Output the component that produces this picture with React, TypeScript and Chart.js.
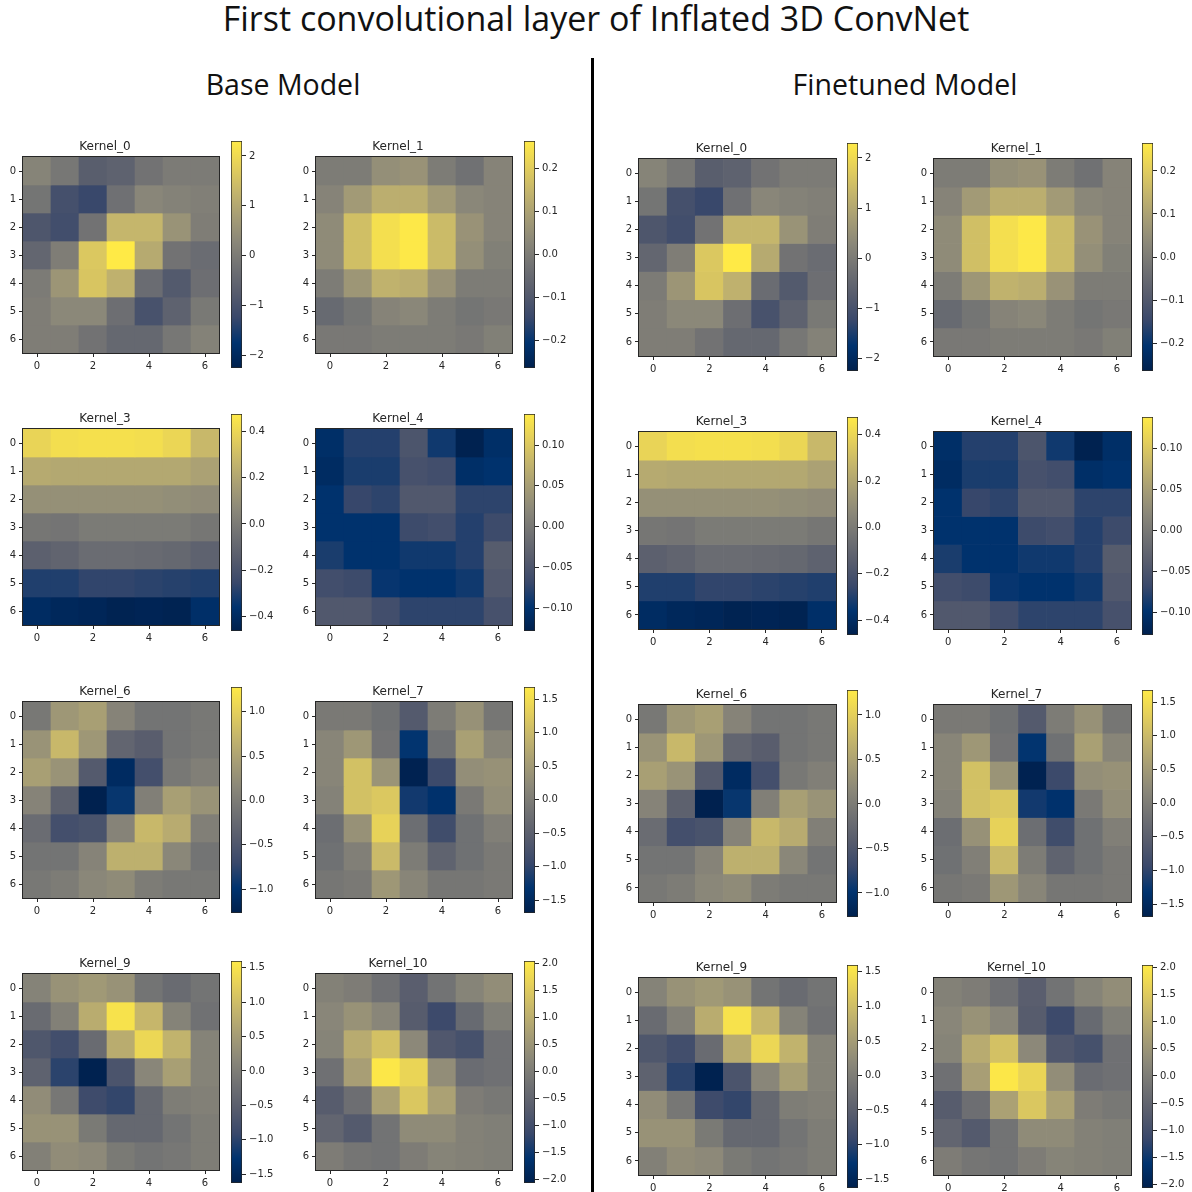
import React, { useEffect, useRef } from 'react';
import { Chart, registerables } from 'chart.js';
Chart.register(...registerables);

// ---------- data ----------
const CELL_INDEX = [0, 1, 2, 3, 4, 5, 6];
const X_TICKS = [0, 2, 4, 6];
const Y_TICKS = [0, 1, 2, 3, 4, 5, 6];

const KERNEL_NAMES = ['Kernel_0', 'Kernel_1', 'Kernel_3', 'Kernel_4', 'Kernel_6', 'Kernel_7', 'Kernel_9', 'Kernel_10'];

const KERNEL_0 = [
  [0.2, -0.1, -0.7, -0.6, -0.2, 0.0, 0.0],
  [-0.15, -1.05, -1.25, -0.25, 0.25, 0.15, 0.1],
  [-0.9, -1.1, -0.2, 1.3, 1.3, 0.55, 0.05],
  [-0.5, 0.05, 1.65, 2.3, 1.05, -0.2, -0.35],
  [0.0, 0.6, 1.6, 1.2, -0.35, -0.8, -0.3],
  [0.05, 0.3, 0.3, -0.3, -1.0, -0.6, -0.05],
  [0.05, 0.05, -0.2, -0.45, -0.45, -0.1, 0.15],
];
const KERNEL_1 = [
  [0.0, 0.0, 0.05, 0.06, 0.0, -0.03, 0.02],
  [0.02, 0.08, 0.13, 0.13, 0.08, 0.03, 0.02],
  [0.04, 0.17, 0.24, 0.26, 0.16, 0.06, 0.02],
  [0.04, 0.17, 0.24, 0.26, 0.16, 0.05, 0.01],
  [0.0, 0.07, 0.14, 0.13, 0.06, 0.0, 0.0],
  [-0.05, -0.02, 0.02, 0.03, 0.0, -0.02, -0.01],
  [-0.01, -0.01, 0.0, 0.0, 0.0, -0.01, 0.01],
];
const KERNEL_3 = [
  [0.39, 0.43, 0.44, 0.44, 0.43, 0.40, 0.28],
  [0.22, 0.21, 0.21, 0.21, 0.21, 0.21, 0.18],
  [0.10, 0.10, 0.10, 0.10, 0.10, 0.09, 0.08],
  [-0.02, -0.03, 0.0, 0.0, 0.0, 0.0, -0.02],
  [-0.13, -0.11, -0.07, -0.07, -0.08, -0.09, -0.12],
  [-0.30, -0.30, -0.27, -0.27, -0.28, -0.29, -0.30],
  [-0.40, -0.42, -0.43, -0.45, -0.44, -0.45, -0.38],
];
const KERNEL_4 = [
  [-0.105, -0.08, -0.08, -0.05, -0.09, -0.125, -0.105],
  [-0.11, -0.085, -0.085, -0.055, -0.06, -0.105, -0.10],
  [-0.10, -0.07, -0.075, -0.045, -0.045, -0.075, -0.075],
  [-0.10, -0.10, -0.10, -0.065, -0.06, -0.08, -0.065],
  [-0.085, -0.10, -0.10, -0.09, -0.09, -0.08, -0.04],
  [-0.06, -0.065, -0.095, -0.10, -0.10, -0.09, -0.045],
  [-0.045, -0.045, -0.06, -0.075, -0.075, -0.075, -0.055],
];
const KERNEL_6 = [
  [-0.05, 0.35, 0.45, 0.1, -0.1, -0.1, -0.05],
  [0.3, 0.75, 0.35, -0.3, -0.4, -0.1, -0.05],
  [0.45, 0.3, -0.45, -1.1, -0.6, -0.05, 0.05],
  [0.1, -0.35, -1.25, -0.95, 0.05, 0.45, 0.3],
  [-0.2, -0.6, -0.55, 0.1, 0.75, 0.6, 0.05],
  [-0.1, -0.1, 0.1, 0.65, 0.65, 0.15, -0.1],
  [-0.05, 0.0, 0.15, 0.2, 0.0, -0.05, -0.05],
];
const KERNEL_7 = [
  [-0.05, -0.05, -0.2, -0.6, 0.0, 0.35, -0.1],
  [0.15, 0.45, -0.15, -1.3, -0.2, 0.6, 0.15],
  [0.15, 1.1, 0.4, -1.65, -0.9, 0.3, 0.35],
  [0.1, 1.1, 1.2, -1.2, -1.35, -0.05, 0.3],
  [-0.25, 0.35, 1.35, -0.25, -0.85, -0.2, 0.05],
  [-0.2, 0.05, 1.0, 0.0, -0.45, -0.2, -0.05],
  [-0.1, -0.05, 0.45, 0.15, -0.1, -0.1, -0.05],
];
const KERNEL_9 = [
  [0.1, 0.35, 0.45, 0.35, -0.15, -0.3, -0.15],
  [-0.3, 0.05, 0.75, 1.5, 0.9, 0.1, -0.2],
  [-0.65, -0.8, -0.3, 0.75, 1.35, 0.85, 0.1],
  [-0.45, -1.0, -1.6, -0.7, 0.15, 0.55, 0.1],
  [0.25, -0.1, -0.85, -0.95, -0.35, 0.0, 0.05],
  [0.35, 0.35, -0.05, -0.35, -0.35, -0.15, 0.0],
  [0.05, 0.25, 0.2, -0.05, -0.15, -0.1, 0.0],
];
const KERNEL_10 = [
  [0.1, 0.0, -0.25, -0.65, -0.2, 0.15, 0.35],
  [0.2, 0.45, 0.2, -0.7, -1.1, -0.4, 0.05],
  [0.15, 0.95, 1.35, 0.25, -0.8, -0.95, -0.25],
  [-0.25, 0.7, 2.0, 1.7, 0.35, -0.35, -0.25],
  [-0.7, -0.3, 0.75, 1.45, 0.75, 0.0, -0.1],
  [-0.5, -0.75, -0.2, 0.3, 0.3, 0.1, 0.05],
  [0.0, -0.15, -0.2, 0.0, 0.15, 0.1, 0.05],
];

// Base and finetuned kernels are visually identical in the reference.
const BASE_KERNELS = [KERNEL_0, KERNEL_1, KERNEL_3, KERNEL_4, KERNEL_6, KERNEL_7, KERNEL_9, KERNEL_10];
const FINETUNED_KERNELS = [KERNEL_0, KERNEL_1, KERNEL_3, KERNEL_4, KERNEL_6, KERNEL_7, KERNEL_9, KERNEL_10];

const CBAR_MIN = [-2.26, -0.265, -0.464, -0.128, -1.27, -1.69, -1.63, -2.07];
const CBAR_MAX = [2.30, 0.265, 0.477, 0.138, 1.28, 1.68, 1.60, 2.05];
const CBAR_TICKS = [
  [-2, -1, 0, 1, 2],
  [-0.2, -0.1, 0, 0.1, 0.2],
  [-0.4, -0.2, 0, 0.2, 0.4],
  [-0.1, -0.05, 0, 0.05, 0.1],
  [-1, -0.5, 0, 0.5, 1],
  [-1.5, -1, -0.5, 0, 0.5, 1, 1.5],
  [-1.5, -1, -0.5, 0, 0.5, 1, 1.5],
  [-2, -1.5, -1, -0.5, 0, 0.5, 1, 1.5, 2],
];
const CBAR_DECIMALS = [0, 1, 1, 2, 1, 1, 1, 1];

// ---------- style ----------
const CIVIDIS = ['#00204D', '#00336F', '#39486B', '#575C6D', '#707173', '#8A8779', '#A69D75', '#C4B56C', '#E4CF5B', '#FFEA46'];
const INK = '#262626';
const TICK_FONT = { family: 'DejaVu Sans', size: 10 };

function hexToRgb(h: string) {
  return [parseInt(h.slice(1, 3), 16), parseInt(h.slice(3, 5), 16), parseInt(h.slice(5, 7), 16)];
}
const CIV_RGB = CIVIDIS.map(hexToRgb);
function cividis(t: number) {
  const u = Math.max(0, Math.min(1, t)) * (CIV_RGB.length - 1);
  const i = Math.min(CIV_RGB.length - 2, Math.floor(u));
  const f = u - i;
  const a = CIV_RGB[i], b = CIV_RGB[i + 1];
  const c = [0, 1, 2].map(k => Math.round(a[k] + (b[k] - a[k]) * f));
  return `rgb(${c[0]},${c[1]},${c[2]})`;
}

const framePlugin = {
  id: 'frame',
  afterDatasetsDraw(chart: any) {
    const { ctx, chartArea: a } = chart;
    ctx.save();
    ctx.strokeStyle = INK;
    ctx.lineWidth = 1;
    ctx.strokeRect(Math.round(a.left) - 0.5, Math.round(a.top) - 0.5, Math.round(a.right - a.left) + 1, Math.round(a.bottom - a.top) + 1);
    ctx.restore();
  },
};

// layout
const AXIS_W = 32;
const AXIS_H = 24;
const TITLE_H = 22;
const BASE_COL_LEFT = [23, 316];
const FT_COL_LEFT = [639, 934];
const BASE_ROW_TOP = [157, 429, 702, 974];
const FT_ROW_TOP = [159, 432, 705, 978];
const BASE_SIZE = 196;
const FT_SIZE = 197;
const CB_GAP = 208;
const CB_W = 11;
const CB_TOP_OFF = [17, 16, 16, 14];
const CB_BOT_OFF = [16, 7, 16, 14];

function Heatmap({ values, idx, left, top, size }: any) {
  const ref = useRef<HTMLCanvasElement>(null);
  const W = AXIS_W * 2 + size;
  const H = TITLE_H + size + AXIS_H;
  useEffect(() => {
    const lo = CBAR_MIN[idx], hi = CBAR_MAX[idx];
    const datasets = CELL_INDEX.map(r => ({
      label: 'row ' + r,
      data: CELL_INDEX.map(c => ({ x: c, y: [r - 0.5, r + 0.5] })),
      backgroundColor: CELL_INDEX.map(c => cividis((values[r][c] - lo) / (hi - lo))),
      borderWidth: 0,
      grouped: false,
      barPercentage: 1,
      categoryPercentage: 1,
    }));
    const chart = new Chart(ref.current as HTMLCanvasElement, {
      type: 'bar',
      data: { datasets } as any,
      options: {
        animation: false,
        responsive: false,
        maintainAspectRatio: false,
        layout: { padding: { left: 0, right: AXIS_W, top: 0, bottom: 0 } },
        plugins: {
          legend: { display: false },
          tooltip: { enabled: false },
          title: {
            display: true,
            text: KERNEL_NAMES[idx],
            color: INK,
            font: { family: 'DejaVu Sans', size: 12, weight: 'normal', lineHeight: 1 },
            padding: { top: 6, bottom: 4 },
          },
        },
        scales: {
          x: {
            type: 'linear', min: -0.5, max: 6.5, offset: false,
            afterBuildTicks: (s: any) => { s.ticks = X_TICKS.map(v => ({ value: v })); },
            afterFit: (s: any) => { s.height = AXIS_H; },
            grid: { display: true, offset: false, drawOnChartArea: false, drawTicks: true, tickLength: 4, color: INK },
            border: { display: false },
            ticks: { font: TICK_FONT, color: INK, padding: 3, maxRotation: 0, autoSkip: false },
          },
          y: {
            type: 'linear', reverse: true, min: -0.5, max: 6.5, beginAtZero: false,
            afterBuildTicks: (s: any) => { s.ticks = Y_TICKS.map(v => ({ value: v })); },
            afterFit: (s: any) => { s.width = AXIS_W; },
            grid: { display: true, drawOnChartArea: false, drawTicks: true, tickLength: 4, color: INK },
            border: { display: false },
            ticks: { font: TICK_FONT, color: INK, padding: 3, autoSkip: false },
          },
        },
      } as any,
      plugins: [framePlugin],
    });
    return () => chart.destroy();
  }, [values, idx, size]);
  return (
    <canvas
      ref={ref}
      width={W}
      height={H}
      style={{ position: 'absolute', left: left - AXIS_W, top: top - TITLE_H, width: W, height: H }}
    />
  );
}

function fmtTick(v: number, dec: number) {
  const s = Math.abs(v).toFixed(dec);
  return (v < 0 ? '\u2212' : '') + s;
}

function Colorbar({ idx, left, top, height }: any) {
  const ref = useRef<HTMLCanvasElement>(null);
  const YW = 46;
  const PAD = 8;
  const W = CB_W + YW;
  const H = height + PAD * 2;
  useEffect(() => {
    const lo = CBAR_MIN[idx], hi = CBAR_MAX[idx];
    const chart = new Chart(ref.current as HTMLCanvasElement, {
      type: 'bar',
      data: {
        labels: [''],
        datasets: [{
          data: [[lo, hi]],
          backgroundColor: (c: any) => {
            const ch = c.chart;
            if (!ch.chartArea) return '#888';
            const y0 = ch.scales.y.getPixelForValue(lo);
            const y1 = ch.scales.y.getPixelForValue(hi);
            const g = ch.ctx.createLinearGradient(0, y0, 0, y1);
            CIVIDIS.forEach((col, i) => g.addColorStop(i / (CIVIDIS.length - 1), col));
            return g;
          },
          borderColor: INK,
          borderWidth: 1,
          borderSkipped: false,
          barPercentage: 1,
          categoryPercentage: 1,
        }],
      } as any,
      options: {
        animation: false,
        responsive: false,
        maintainAspectRatio: false,
        layout: { padding: { left: 0, right: 0, top: PAD, bottom: PAD } },
        plugins: { legend: { display: false }, tooltip: { enabled: false }, title: { display: false } },
        scales: {
          x: { display: false },
          y: {
            position: 'right', min: lo, max: hi, beginAtZero: false,
            afterBuildTicks: (s: any) => { s.ticks = CBAR_TICKS[idx].map(v => ({ value: v })); },
            afterFit: (s: any) => { s.width = YW; },
            grid: { display: true, drawOnChartArea: false, drawTicks: true, tickLength: 4, color: INK },
            border: { display: false },
            ticks: {
              font: TICK_FONT, color: INK, padding: 3, autoSkip: false,
              callback: (v: any) => fmtTick(Number(v), CBAR_DECIMALS[idx]),
            },
          },
        },
      } as any,
    });
    return () => chart.destroy();
  }, [idx]);
  return (
    <canvas
      ref={ref}
      width={W}
      height={H}
      style={{ position: 'absolute', left, top: top - PAD, width: W, height: H }}
    />
  );
}

function Side({ kernels, colLeft, rowTop, size }: any) {
  const items: any[] = [];
  for (let r = 0; r < 4; r++) {
    for (let c = 0; c < 2; c++) {
      const idx = r * 2 + c;
      const left = colLeft[c];
      const top = rowTop[r];
      items.push(<Heatmap key={'h' + idx} values={kernels[idx]} idx={idx} left={left} top={top} size={size} />);
      items.push(
        <Colorbar
          key={'c' + idx}
          idx={idx}
          left={left + CB_GAP}
          top={top - CB_TOP_OFF[r]}
          height={size + CB_TOP_OFF[r] + CB_BOT_OFF[r]}
        />
      );
    }
  }
  return <>{items}</>;
}

export default function App() {
  const headFont = '"Open Sans", "Noto Sans", sans-serif';
  return (
    <div style={{ position: 'absolute', left: 0, top: 0, width: 1192, height: 1192, background: '#fff', overflow: 'hidden' }}>
      <div style={{ position: 'absolute', left: 0, top: 1, width: 1192, textAlign: 'center', fontFamily: headFont, fontSize: 34, lineHeight: '34px', color: '#111', whiteSpace: 'nowrap' }}>
        First convolutional layer of Inflated 3D ConvNet
      </div>
      <div style={{ position: 'absolute', left: 83, top: 70, width: 400, textAlign: 'center', fontFamily: headFont, fontSize: 28.5, lineHeight: '28.5px', color: '#111', whiteSpace: 'nowrap' }}>
        Base Model
      </div>
      <div style={{ position: 'absolute', left: 705, top: 70, width: 400, textAlign: 'center', fontFamily: headFont, fontSize: 28.5, lineHeight: '28.5px', color: '#111', whiteSpace: 'nowrap' }}>
        Finetuned Model
      </div>
      <div style={{ position: 'absolute', left: 591, top: 58, width: 3, height: 1134, background: '#000' }} />
      <Side kernels={BASE_KERNELS} colLeft={BASE_COL_LEFT} rowTop={BASE_ROW_TOP} size={BASE_SIZE} />
      <Side kernels={FINETUNED_KERNELS} colLeft={FT_COL_LEFT} rowTop={FT_ROW_TOP} size={FT_SIZE} />
    </div>
  );
}
